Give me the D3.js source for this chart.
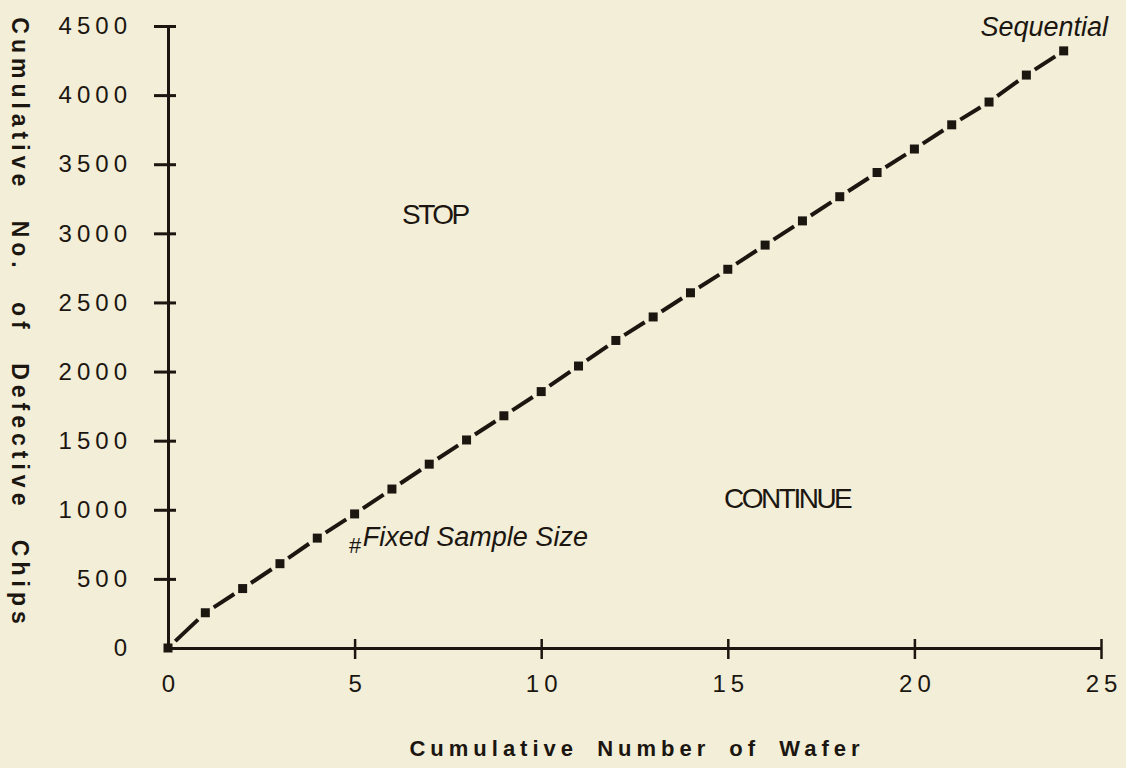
<!DOCTYPE html>
<html>
<head>
<meta charset="utf-8">
<script src="https://cdn.jsdelivr.net/npm/d3@7"></script>
<style>
  body { margin: 0; background: #f2eed8; }
  svg { display: block; font-family: "Liberation Sans", Arial, sans-serif; }
  .tick text { fill: #1c1610; }
</style>
</head>
<body>
<div id="container"></div>
<script>
// values
const wafers = [0, 1, 2, 3, 4, 5, 6, 7, 8, 9, 10, 11, 12, 13, 14, 15, 16, 17, 18, 19, 20, 21, 22, 23, 24];
const defectives = [0, 255, 430, 610, 795, 970, 1150, 1330, 1505, 1680, 1855, 2040, 2225, 2395, 2570,
                    2740, 2915, 3090, 3265, 3440, 3610, 3785, 3950, 4145, 4320];
const xTicks = [0, 5, 10, 15, 20, 25];
const yTicks = [0, 500, 1000, 1500, 2000, 2500, 3000, 3500, 4000, 4500];

const xTitle = "Cumulative Number of Wafer";
const yTitle = "Cumulative No. of Defective Chips";

const ink = "#1c1610";
const width = 1126;
const height = 768;

const x = d3.scaleLinear().domain([0, 25]).range([168, 1101]);
const y = d3.scaleLinear().domain([0, 4500]).range([648, 26]);

const svg = d3.create("svg")
    .attr("width", width)
    .attr("height", height);

svg.append("rect")
    .attr("width", width)
    .attr("height", height)
    .attr("fill", "#f2eed8");

// x axis
const gx = svg.append("g")
    .attr("transform", `translate(0,${y(0)})`)
    .call(d3.axisBottom(x).tickValues(xTicks).tickSizeOuter(0).tickFormat(d3.format("d")));
gx.select(".domain").attr("stroke", ink).attr("stroke-width", 3);
gx.selectAll(".tick line")
    .attr("stroke", ink).attr("stroke-width", 2.5)
    .attr("y1", -9).attr("y2", 11)
    .attr("display", d => d === 0 ? "none" : null);
gx.selectAll(".tick text")
    .attr("y", 44).attr("dy", 0).attr("dx", 2.5)
    .style("font-size", "24px")
    .style("letter-spacing", "5px");

// y axis
const gy = svg.append("g")
    .attr("transform", `translate(${x(0)},0)`)
    .call(d3.axisLeft(y).tickValues(yTicks).tickSizeOuter(0).tickPadding(30).tickFormat(d3.format("d")));
gy.select(".domain").attr("stroke", ink).attr("stroke-width", 3);
gy.selectAll(".tick line")
    .attr("stroke", ink).attr("stroke-width", 3)
    .attr("x1", -14).attr("x2", 8)
    .attr("display", d => d === 0 ? "none" : null);
gy.selectAll(".tick text")
    .style("font-size", "24px")
    .style("letter-spacing", "5px");

// axis titles
svg.append("text")
    .attr("x", 637)
    .attr("y", 756)
    .attr("text-anchor", "middle")
    .attr("fill", ink)
    .style("font-size", "22px")
    .style("font-weight", "bold")
    .style("letter-spacing", "5px")
    .style("word-spacing", "8px")
    .text(xTitle);

svg.append("text")
    .attr("transform", "translate(20,323) rotate(90)")
    .attr("dy", "0.35em")
    .attr("text-anchor", "middle")
    .attr("fill", ink)
    .style("font-size", "23px")
    .style("font-weight", "bold")
    .style("letter-spacing", "5px")
    .style("word-spacing", "18px")
    .text(yTitle);

// dashed connecting line: one dash between each pair of points
const pts = wafers.map((w, i) => [x(w), y(defectives[i])]);
const gap = 10;
const segs = d3.pairs(pts).map(([a, b]) => {
    const dx = b[0] - a[0], dy = b[1] - a[1];
    const len = Math.hypot(dx, dy);
    const ux = dx / len, uy = dy / len;
    return [a[0] + ux * gap, a[1] + uy * gap, b[0] - ux * gap, b[1] - uy * gap];
});

svg.append("g")
    .selectAll("line")
    .data(segs)
    .join("line")
    .attr("x1", d => d[0]).attr("y1", d => d[1])
    .attr("x2", d => d[2]).attr("y2", d => d[3])
    .attr("stroke", ink)
    .attr("stroke-width", 4);

svg.append("g")
    .selectAll("rect")
    .data(wafers)
    .join("rect")
    .attr("x", (d, i) => x(d) - 4.5)
    .attr("y", (d, i) => y(defectives[i]) - 4.5)
    .attr("width", 9)
    .attr("height", 9)
    .attr("fill", ink);

// region labels
svg.append("text")
    .attr("x", x(7.15)).attr("y", y(3070))
    .attr("text-anchor", "middle")
    .attr("fill", ink)
    .style("font-size", "28px")
    .style("letter-spacing", "-2.5px")
    .text("STOP");

svg.append("text")
    .attr("x", x(14.9)).attr("y", y(1015))
    .attr("fill", ink)
    .style("font-size", "28px")
    .style("letter-spacing", "-2.5px")
    .text("CONTINUE");

svg.append("text")
    .attr("x", x(4.85)).attr("y", y(690))
    .attr("fill", ink)
    .style("font-size", "22px")
    .text("#");

svg.append("text")
    .attr("x", x(5.22)).attr("y", y(735))
    .attr("fill", ink)
    .style("font-size", "27px")
    .style("font-style", "italic")
    .text("Fixed Sample Size");

svg.append("text")
    .attr("x", x(25.19)).attr("y", y(4428))
    .attr("text-anchor", "end")
    .attr("fill", ink)
    .style("font-size", "27px")
    .style("font-style", "italic")
    .text("Sequential");

document.querySelector("#container").appendChild(svg.node());
</script>
</body>
</html>
